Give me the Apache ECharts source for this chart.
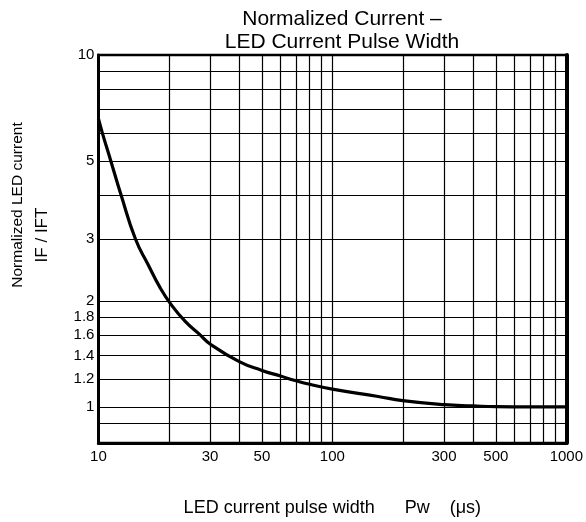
<!DOCTYPE html>
<html><head><meta charset="utf-8">
<script src="https://cdn.jsdelivr.net/npm/echarts@6/dist/echarts.min.js"></script>
<style>html,body{margin:0;padding:0;background:#fff}#c{width:586px;height:522px}</style>
</head><body><div id="c"></div>
<script>
const pulseWidth = [10, 10.4, 11.3, 12.5, 14.4, 16.3, 18.3, 20.5, 23.5, 27, 30, 40, 50, 60, 70, 80, 100, 157, 200, 300, 400, 500, 700, 1000];
const normCurrent = [6.6, 6.0, 5.0, 4.0, 3.0, 2.54, 2.19, 1.95, 1.75, 1.61, 1.51, 1.345, 1.27, 1.224, 1.187, 1.16, 1.124, 1.071, 1.042, 1.015, 1.007, 1.002, 1.0, 1.0];
const xGridValues = [10, 20, 30, 40, 50, 60, 70, 80, 90, 100, 200, 300, 400, 500, 600, 700, 800, 900, 1000];
const xTickLabels = [10, 30, 50, 100, 300, 500, 1000];
const yGridValues = [0.9, 1, 1.2, 1.4, 1.6, 1.8, 2, 3, 4, 5, 6, 7, 8, 9, 10];
const yTickLabels = [1, 1.2, 1.4, 1.6, 1.8, 2, 3, 5, 10];

const FONT = '"Liberation Sans", Arial, sans-serif';
const chart = echarts.init(document.getElementById('c'), null, {renderer: 'canvas'});
const gridLine = {show: true, lineStyle: {color: '#000', width: 1.2, type: 'solid'}};

chart.setOption({
  animation: false,
  backgroundColor: '#fff',
  grid: {left: 98.4, right: 17, top: 55, bottom: 78, show: true, borderColor: '#000', borderWidth: 2.5, backgroundColor: 'transparent'},
  xAxis: {
    type: 'log', logBase: 10, min: 10, max: 1000,
    axisLine: {show: true, onZero: false, lineStyle: {color: '#000', width: 3}},
    axisTick: {show: false, customValues: xGridValues},
    splitLine: gridLine,
    axisLabel: {customValues: xTickLabels, color: '#000', fontSize: 15, fontFamily: FONT, margin: 6,
      formatter: v => String(Math.round(v))},
    name: 'LED current pulse width      Pw    (\u03bcs)',
    nameLocation: 'middle', nameGap: 56,
    nameTextStyle: {color: '#000', fontSize: 18, fontFamily: FONT}
  },
  yAxis: [{
    type: 'log', logBase: 10, min: 0.79, max: 10,
    axisLine: {show: true, onZero: false, lineStyle: {color: '#000', width: 3}},
    axisTick: {show: false, customValues: yGridValues},
    splitLine: gridLine,
    axisLabel: {customValues: yTickLabels, color: '#000', fontSize: 15, fontFamily: FONT, margin: 4,
      formatter: v => String(Math.round(v * 10) / 10)}
  }, {
    type: 'log', logBase: 10, min: 0.79, max: 10, position: 'right',
    axisLine: {show: true, onZero: false, lineStyle: {color: '#000', width: 4}},
    axisTick: {show: false}, splitLine: {show: false}, axisLabel: {show: false}
  }],
  graphic: [
    {type: 'text', x: 342, y: 19, style: {text: 'Normalized Current \u2013', font: '21px ' + FONT, fill: '#000', align: 'center', verticalAlign: 'middle', textAlign: 'center', textVerticalAlign: 'middle'}},
    {type: 'text', x: 342, y: 42, style: {text: 'LED Current Pulse Width', font: '21px ' + FONT, fill: '#000', align: 'center', verticalAlign: 'middle', textAlign: 'center', textVerticalAlign: 'middle'}},
    {type: 'text', x: 18, y: 205, rotation: Math.PI / 2, style: {text: 'Normalized LED current', font: '15.5px ' + FONT, fill: '#000', align: 'center', verticalAlign: 'middle', textAlign: 'center', textVerticalAlign: 'middle'}},
    {type: 'text', x: 42, y: 235, rotation: Math.PI / 2, style: {text: 'IF / IFT', font: '17px ' + FONT, fill: '#000', align: 'center', verticalAlign: 'middle', textAlign: 'center', textVerticalAlign: 'middle'}}
  ],
  series: [{
    type: 'line', xAxisIndex: 0, yAxisIndex: 0,
    data: pulseWidth.map((x, i) => [x, normCurrent[i]]),
    smooth: 0.5, showSymbol: false, symbol: 'none',
    lineStyle: {color: '#000', width: 3.2}, clip: true
  }]
});
</script></body></html>
